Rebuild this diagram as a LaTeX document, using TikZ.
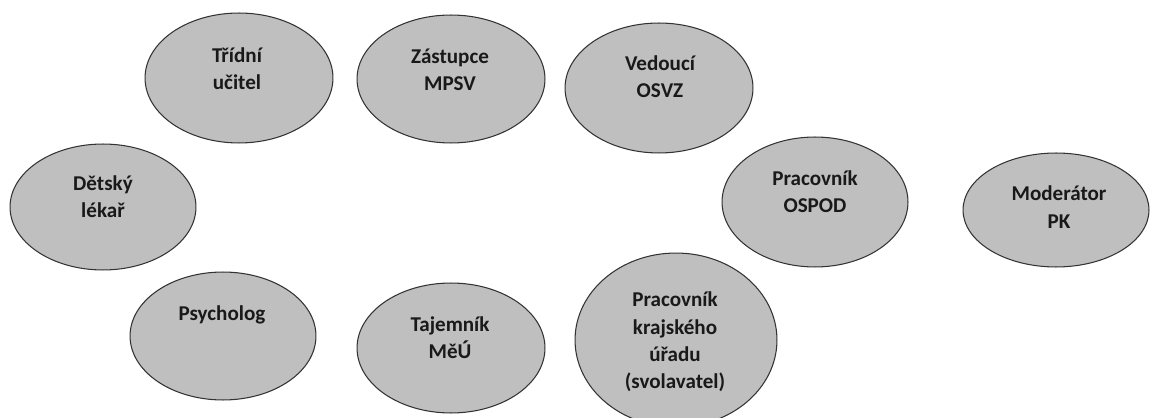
\documentclass[tikz,border=0pt]{standalone}
\usepackage{fontspec}
\setmainfont{Carlito}
\usetikzlibrary{shapes.geometric}

\tikzset{
  bubble/.style={ellipse, draw=black!80, line width=0.6pt, fill=black!25, inner sep=0pt, outer sep=0pt},
  bubbletext/.style={align=center, font=\bfseries\fontsize{12}{15.5}\selectfont, text=black!90}
}

\begin{document}
\begin{tikzpicture}[x=0.02cm, y=-0.02cm]
  \useasboundingbox (0,0) rectangle (1151,418);
  % ellipses: name / centre / radii / text position / text
  \foreach \n/\cx/\cy/\rx/\ry/\tx/\ty/\txt in {
      trid/239/78/94/65/237/69/{Třídní\\učitel},
      mpsv/451/79/94/64/450/70/{Zástupce\\MPSV},
      osvz/659/88/94/65/660/77/{Vedoucí\\OSVZ},
      lekar/103/207/93/63/103/197/{Dětský\\lékař},
      ospod/815/202/93/65/815/192/{Pracovník\\OSPOD},
      moder/1056/210/93/57/1059/207/{Moderátor\\PK},
      psych/223/336/93/64/222/315/{Psycholog},
      tajem/451/348/94/65/450/338/{Tajemník\\MěÚ},
      kraj/676/340/101/87/675/342/{Pracovník\\krajského\\úřadu\\(svolavatel)}} {
    \node[bubble, minimum width=\rx*0.04cm, minimum height=\ry*0.04cm] (\n) at (\cx,\cy) {};
    \node[bubbletext] (\n-txt) at (\tx,\ty) {\txt};
  }
\end{tikzpicture}
\end{document}
